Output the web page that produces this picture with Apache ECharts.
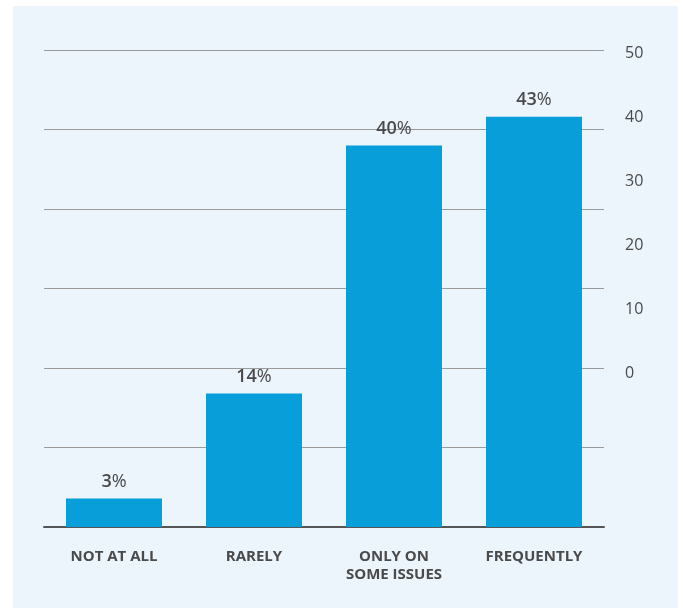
<!DOCTYPE html>
<html>
<head>
<meta charset="utf-8">
<script src="https://cdn.jsdelivr.net/npm/echarts@6/dist/echarts.min.js"></script>
<style>
html,body{margin:0;padding:0;background:#ffffff;}
#chart{width:683px;height:608px;}
</style>
</head>
<body>
<div id="chart"></div>
<script>
const categories = ['NOT AT ALL', 'RARELY', 'ONLY ON\nSOME ISSUES', 'FREQUENTLY'];
const values = [3, 14, 40, 43];
const rightTicks = [0, 10, 20, 30, 40, 50];

const chart = echarts.init(document.getElementById('chart'), null, {renderer: 'canvas'});
const font = '"Open Sans", "Liberation Sans", sans-serif';

chart.setOption({
  backgroundColor: '#ffffff',
  animation: false,
  graphic: [{
    type: 'rect', z: -10, silent: true,
    shape: {x: 13, y: 6, width: 665, height: 602},
    style: {fill: '#ecf4fc'}
  }],
  grid: [
    {left: 44, width: 560, top: 50, height: 477},
    {left: 44, width: 560, top: 53, height: 320}
  ],
  xAxis: [
    {
      type: 'category', gridIndex: 0, data: categories,
      axisLine: {show: true, lineStyle: {color: '#555555', width: 2}},
      axisTick: {show: false},
      axisLabel: {
        margin: 21, color: '#4a4a4a', fontFamily: font, fontWeight: 'bold',
        fontSize: 15, lineHeight: 18, interval: 0
      }
    },
    {type: 'category', gridIndex: 1, data: categories, show: false}
  ],
  yAxis: [
    {
      type: 'value', gridIndex: 0, min: 0, max: 50, interval: 50 / 6,
      axisLine: {show: false}, axisTick: {show: false}, axisLabel: {show: false},
      splitLine: {show: true, lineStyle: {color: '#9a9a9a', width: 1}}
    },
    {
      type: 'value', gridIndex: 1, position: 'right',
      min: rightTicks[0], max: rightTicks[rightTicks.length - 1], interval: 10,
      axisLine: {show: false}, axisTick: {show: false}, splitLine: {show: false},
      axisLabel: {margin: 21, color: '#4a4a4a', fontFamily: font, fontSize: 16}
    }
  ],
  series: [{
    type: 'bar', xAxisIndex: 0, yAxisIndex: 0,
    data: values, barWidth: 96,
    itemStyle: {color: '#079ed9'},
    label: {
      show: true, position: 'top', distance: 8,
      formatter: p => '{n|' + p.value + '}{p|%}',
      rich: {
        n: {color: '#4a4a4a', fontFamily: font, fontWeight: 600, fontSize: 18},
        p: {color: '#4a4a4a', fontFamily: font, fontWeight: 'normal', fontSize: 18}
      }
    }
  }]
});
</script>
</body>
</html>
